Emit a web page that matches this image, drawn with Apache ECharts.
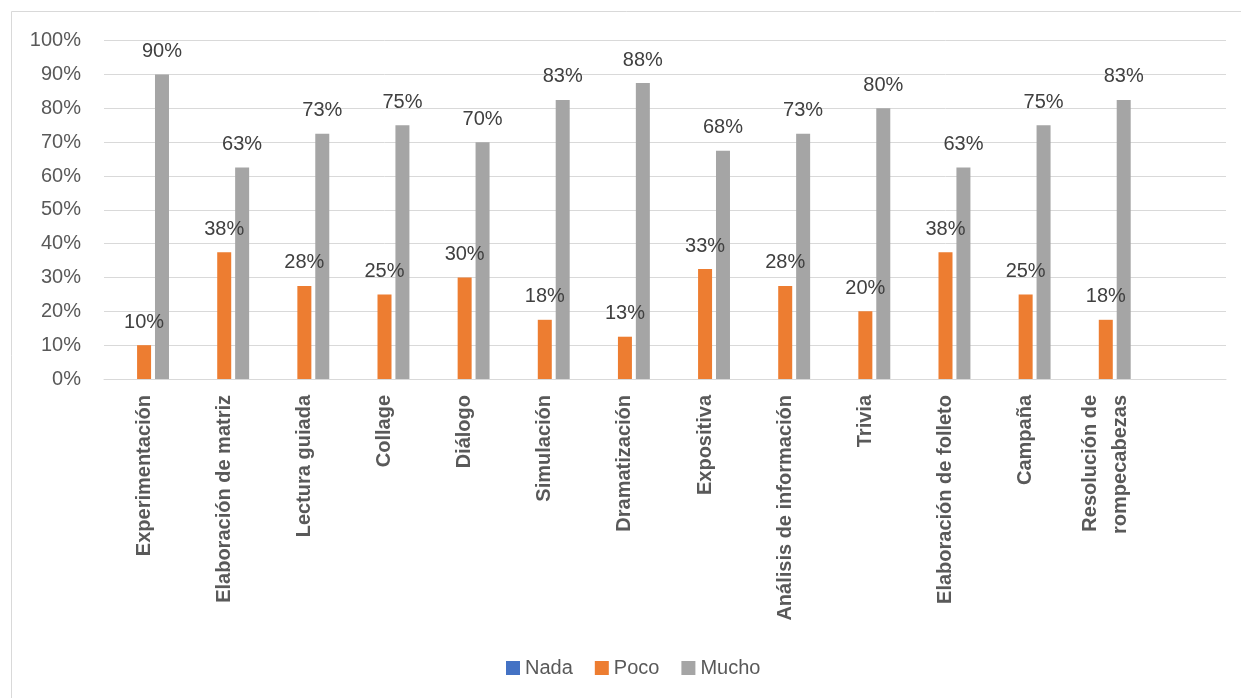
<!DOCTYPE html>
<html>
<head>
<meta charset="utf-8">
<script src="https://cdn.jsdelivr.net/npm/echarts@6/dist/echarts.min.js"></script>
<style>
html,body{margin:0;padding:0;background:#fff;}
#chart{width:1241px;height:698px;}
</style>
</head>
<body>
<div id="chart"></div>
<script>
const categories = ['Experimentación','Elaboración de matriz','Lectura guiada','Collage','Diálogo','Simulación','Dramatización','Expositiva','Análisis de información','Trivia','Elaboración de folleto','Campaña','Resolución de\nrompecabezas',''];
const nada  = [0,0,0,0,0,0,0,0,0,0,0,0,0];
const poco  = [10,37.5,27.5,25,30,17.5,12.5,32.5,27.5,20,37.5,25,17.5];
const mucho = [90,62.5,72.5,75,70,82.5,87.5,67.5,72.5,80,62.5,75,82.5];
const yTicks = [0,10,20,30,40,50,60,70,80,90,100];

const FONT = '"Liberation Sans", Arial, sans-serif';
const chart = echarts.init(document.getElementById('chart'), null, {renderer:'canvas'});
const labelCfg = {
  show: true, position: 'top', distance: 13,
  color: '#404040', fontSize: 20, fontFamily: FONT,
  formatter: p => Math.round(p.value) + '%'
};
chart.setOption({
  animation: false,
  backgroundColor: '#fff',
  graphic: [{
    type: 'rect', silent: true,
    shape: {x: 11.5, y: 11.5, width: 1400, height: 1000},
    style: {fill: 'none', stroke: '#d9d9d9', lineWidth: 1}
  }],
  grid: {left: 104, right: 15, top: 40.7, bottom: 319, containLabel: false},
  legend: {
    data: ['Nada','Poco','Mucho'],
    left: 506, top: 658, padding: 0,
    itemWidth: 14, itemHeight: 14, itemGap: 22,
    icon: 'rect',
    textStyle: {color: '#595959', fontSize: 20, fontFamily: FONT}
  },
  xAxis: {
    type: 'category',
    data: categories,
    axisLine: {lineStyle: {color: '#d9d9d9', width: 1}},
    axisTick: {show: false},
    axisLabel: {
      rotate: 90, interval: 0, margin: 16,
      color: '#595959', fontSize: 20, fontWeight: 'bold', fontFamily: FONT,
      lineHeight: 30
    }
  },
  yAxis: {
    type: 'value',
    min: yTicks[0], max: yTicks[yTicks.length-1], interval: 10,
    axisLine: {show: false},
    axisTick: {show: false},
    splitLine: {lineStyle: {color: '#d9d9d9', width: 1}},
    axisLabel: {
      margin: 23, color: '#595959', fontSize: 20, fontFamily: FONT,
      formatter: v => v + '%'
    }
  },
  series: [
    {name: 'Nada', type: 'bar', data: nada, barWidth: 14, barGap: '28%',
     itemStyle: {color: '#4472C4'}, label: {show: false}},
    {name: 'Poco', type: 'bar', data: poco, barWidth: 14, barGap: '28%',
     itemStyle: {color: '#ED7D31'}, label: labelCfg},
    {name: 'Mucho', type: 'bar', data: mucho, barWidth: 14, barGap: '28%',
     itemStyle: {color: '#A5A5A5'}, label: labelCfg}
  ]
});
</script>
</body>
</html>
